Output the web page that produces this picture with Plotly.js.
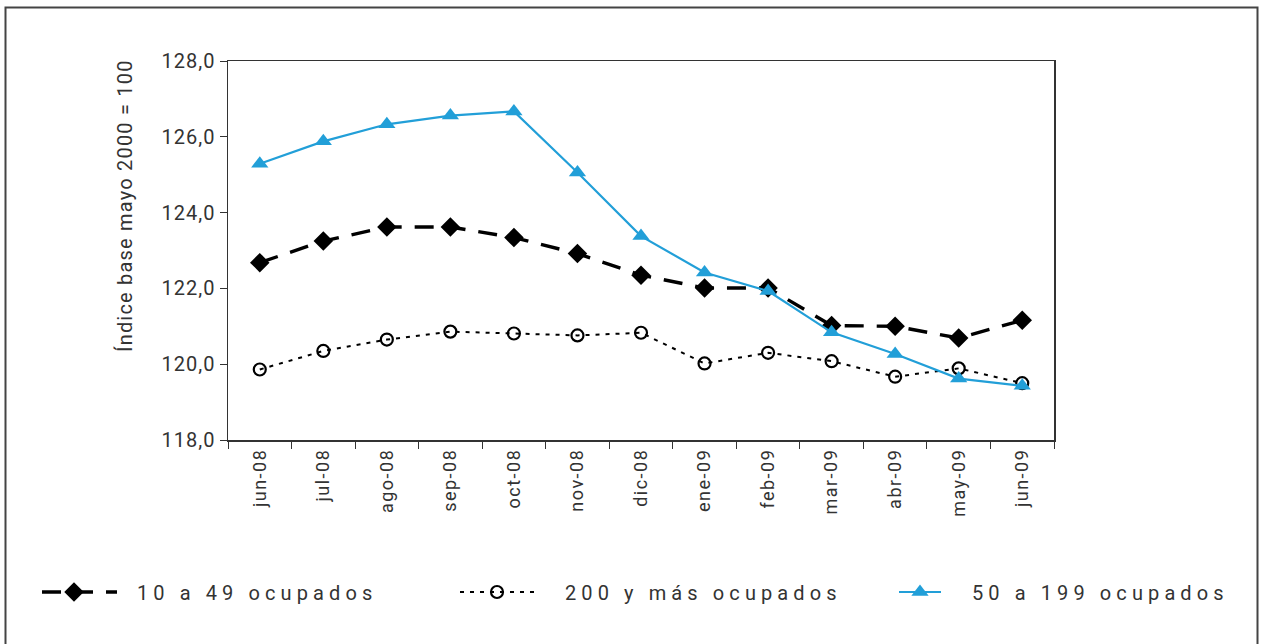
<!DOCTYPE html>
<html>
<head>
<meta charset="utf-8">
<script src="https://cdn.plot.ly/plotly-3.0.1.min.js"></script>
<style>
html,body{margin:0;padding:0;background:#fff;}
#chart{width:1261px;height:644px;}
.ytick text{letter-spacing:1px;}
.xtick text{letter-spacing:1.5px;}
.annotation-text{letter-spacing:1.2px;}
</style>
</head>
<body>
<div id="chart"></div>
<script>
const categories = ["jun-08","jul-08","ago-08","sep-08","oct-08","nov-08","dic-08","ene-09","feb-09","mar-09","abr-09","may-09","jun-09"];
const serie10a49 = [122.68, 123.25, 123.62, 123.62, 123.34, 122.92, 122.35, 122.01, 122.01, 121.02, 121.00, 120.69, 121.16];
const serie200ymas = [119.86, 120.35, 120.65, 120.86, 120.81, 120.76, 120.83, 120.02, 120.30, 120.08, 119.67, 119.89, 119.50];
const serie50a199 = [125.29, 125.88, 126.33, 126.56, 126.67, 125.06, 123.38, 122.42, 121.93, 120.84, 120.27, 119.62, 119.43];
const seriesNames = ["10 a 49 ocupados", "200 y más ocupados", "50 a 199 ocupados"];
const yTicks = [118, 120, 122, 124, 126, 128];
const yTitle = 'Índice base mayo 2000 = 100';

const L = 228, R = 1054, T = 61, B = 440, W = 1261, H = 644;
const px = v => (v - L) / (R - L);
const py = v => (B - v) / (B - T);

const traces = [
  {x: categories, y: serie10a49, name: seriesNames[0], type: 'scatter', mode: 'lines+markers', legend: 'legend',
   line: {color: '#000', width: 3.4, dash: '19px,13px'},
   marker: {symbol: 'diamond', size: 15, color: '#000'}},
  {x: categories, y: serie200ymas, name: seriesNames[1], type: 'scatter', mode: 'lines+markers', legend: 'legend2',
   line: {color: '#000', width: 2, dash: '4px,6px'},
   marker: {symbol: 'circle-open', size: 12, color: '#000', line: {width: 2.2, color: '#000'}}},
  {x: categories, y: serie50a199, name: seriesNames[2], type: 'scatter', mode: 'lines+markers', legend: 'legend3',
   line: {color: '#229fd8', width: 2.2},
   marker: {symbol: 'triangle-up', size: 15, color: '#229fd8'}}
];

const legFont = {size: 20, color: '#333'};
const legBase = {orientation: 'h', xref: 'container', yref: 'container', xanchor: 'left', yanchor: 'middle',
                 y: (H - 592) / H, font: legFont, bgcolor: 'rgba(0,0,0,0)'};
// geometry of each legend entry (pixels): line start, line length, marker centre, text start
const legGeom = [
  {lineStart: 42, lineLen: 75, marker: 74, text: 137},
  {lineStart: 460, lineLen: 76, marker: 497, text: 565},
  {lineStart: 899, lineLen: 42, marker: 920, text: 972}
];
const mkLeg = g => Object.assign({}, legBase, {x: (g.lineStart - 15) / W, itemwidth: g.text - g.lineStart + 5});

const layout = {
  width: W, height: H,
  margin: {l: L, r: W - R, t: T, b: H - B},
  paper_bgcolor: '#fff', plot_bgcolor: '#fff',
  separators: ',.',
  font: {family: 'Roboto, "Liberation Sans", sans-serif', color: '#333'},
  showlegend: true,
  legend: mkLeg(legGeom[0]),
  legend2: mkLeg(legGeom[1]),
  legend3: mkLeg(legGeom[2]),
  xaxis: {type: 'category', range: [-0.5, categories.length - 0.5], tickangle: -90,
          tickson: 'boundaries', ticks: 'outside', ticklen: 7, tickcolor: '#333',
          showline: true, linecolor: '#333', linewidth: 1.5, mirror: true,
          showgrid: false, zeroline: false, tickfont: {size: 18, color: '#333'}},
  yaxis: {range: [118, 128], tickvals: yTicks, tickformat: '.1f', ticks: 'outside', ticklen: 7,
          tickcolor: '#333', showline: true, linecolor: '#333', linewidth: 1.5, mirror: true,
          showgrid: false, zeroline: false, tickfont: {size: 20, color: '#333'}},
  annotations: [
    {text: yTitle, textangle: -90, xref: 'paper', yref: 'paper', x: px(125), y: py(206),
     xanchor: 'center', yanchor: 'middle', showarrow: false, font: {size: 20, color: '#333'}}
  ],
  shapes: [
    {type: 'rect', xref: 'paper', yref: 'paper', x0: px(5.5), x1: px(1257.5), y0: py(648), y1: py(7.5),
     line: {color: '#444', width: 2}, fillcolor: 'rgba(0,0,0,0)'}
  ]
};

Plotly.newPlot('chart', traces, layout, {displayModeBar: false, staticPlot: true}).then(gd => {
  const names = ['legend', 'legend2', 'legend3'];
  names.forEach((nm, i) => {
    const g = legGeom[i];
    const leg = gd.querySelector('g.' + nm);
    if (!leg) return;
    leg.querySelectorAll('[clip-path]').forEach(e => e.removeAttribute('clip-path'));
    const item = leg.querySelector('g.traces');
    if (!item) return;
    const ctm = item.getCTM();
    const originX = ctm ? ctm.e : 0;
    const line = item.querySelector('.legendlines path');
    if (line) line.setAttribute('d', 'M' + (g.lineStart - originX) + ',0h' + g.lineLen);
    item.querySelectorAll('.legendpoints path').forEach(p => {
      p.setAttribute('transform', 'translate(' + (g.marker - originX) + ',0)');
    });
    item.querySelectorAll('text').forEach(t => { t.style.letterSpacing = '5.1px'; });
  });
});
</script>
</body>
</html>
